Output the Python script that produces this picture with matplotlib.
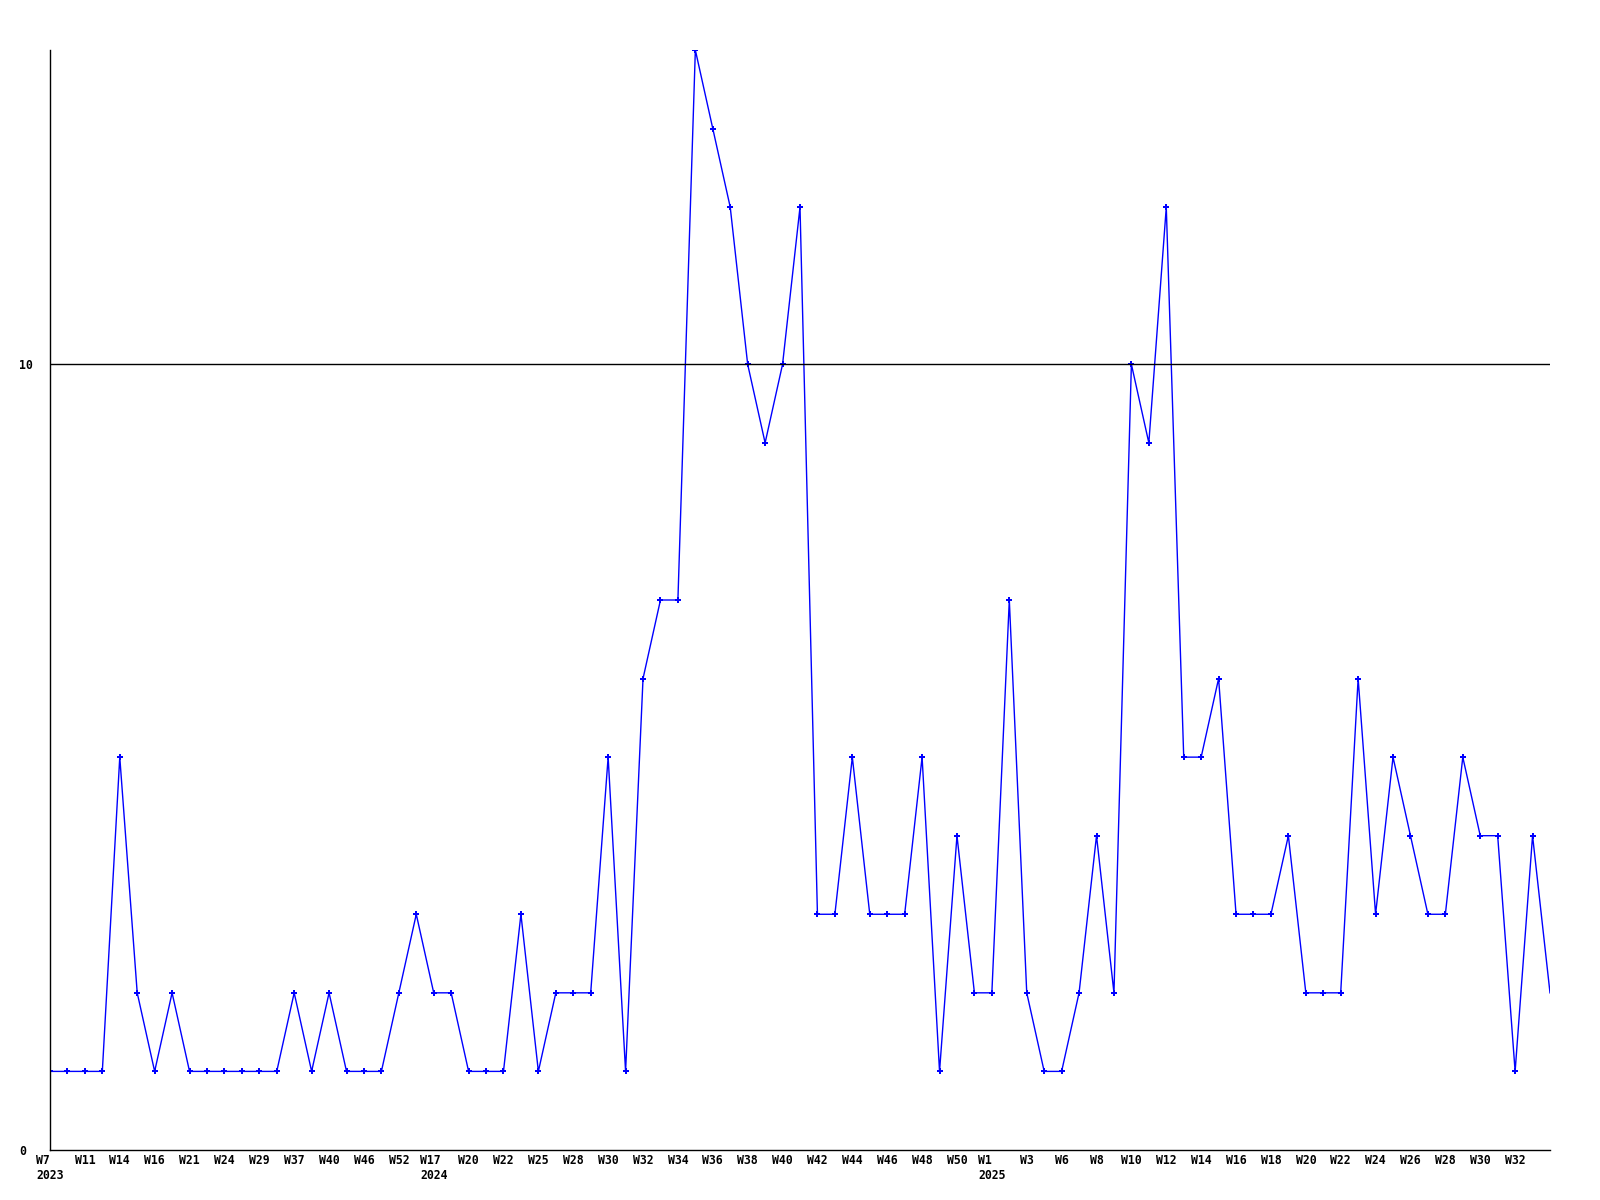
import matplotlib
matplotlib.use("Agg")
import matplotlib.pyplot as plt
import numpy as np

# weekly counts, one per point
counts = [1, 1, 1, 1, 5, 2, 1, 2, 1, 1, 1, 1, 1, 1, 2, 1, 2, 1, 1, 1,
          2, 3, 2, 2, 1, 1, 1, 3, 1, 2, 2, 2, 5, 1, 6, 7, 7, 14, 13, 12,
          10, 9, 10, 12, 3, 3, 5, 3, 3, 3, 5, 1, 4, 2, 2, 7, 2, 1, 1, 2,
          4, 2, 10, 9, 12, 5, 5, 6, 3, 3, 3, 4, 2, 2, 2, 6, 3, 5, 4, 3,
          3, 5, 4, 4, 1, 4, 2]

# labels on every second point
week_labels = ["W7\n2023", "W11", "W14", "W16", "W21", "W24", "W29", "W37", "W40", "W46",
               "W52", "W17\n2024", "W20", "W22", "W25", "W28", "W30", "W32", "W34", "W36",
               "W38", "W40", "W42", "W44", "W46", "W48", "W50", "W1\n2025", "W3", "W6",
               "W8", "W10", "W12", "W14", "W16", "W18", "W20", "W22", "W24", "W26",
               "W28", "W30", "W32"]

ytick_vals = [0, 10]

x = np.arange(len(counts))

fig = plt.figure(figsize=(16, 12), dpi=100)
ax = fig.add_axes([0.03125, 0.0417, 0.9375, 0.9166])

# last point sits on the right edge, drawn without a marker
ax.plot(x, counts, color="#0000ff", lw=1, marker="P", markersize=4,
        markeredgewidth=0, markevery=list(range(len(counts) - 1)))
ax.axhline(10, color="black", lw=1)

ax.set_xlim(0, len(counts) - 1)
ax.set_ylim(0, 14)

ax.set_xticks(x[:len(week_labels) * 2:2])
ax.set_xticklabels(week_labels, family="DejaVu Sans Mono", fontweight="bold",
                   fontsize=8.3, ha="center", multialignment="left")
ax.set_yticks(ytick_vals)
ax.set_yticklabels([str(v) for v in ytick_vals], family="DejaVu Sans Mono",
                   fontweight="bold", fontsize=8.3, ha="left")
ax.tick_params(axis="x", length=0, pad=3)
ax.tick_params(axis="y", length=0, pad=22.5)

ax.spines["right"].set_visible(False)
ax.spines["top"].set_visible(False)
ax.spines["left"].set_linewidth(1)
ax.spines["bottom"].set_linewidth(1)

fig.savefig("out.png", dpi=100, facecolor="white")
